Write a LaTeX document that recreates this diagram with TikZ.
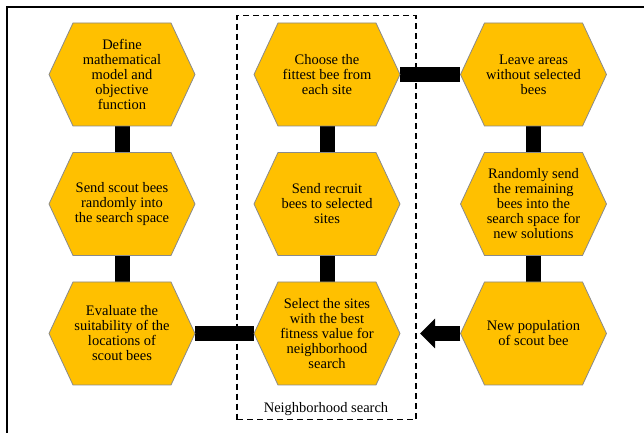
\documentclass[tikz,border=0pt]{standalone}
\usepackage{fontspec}
\setmainfont{Liberation Serif}
\usetikzlibrary{arrows.meta,backgrounds}
\definecolor{hexyellow}{HTML}{FFC000}
\definecolor{hexedge}{HTML}{8A8A8A}
\tikzset{
  hexshape/.style={fill=hexyellow, draw=hexedge, line width=0.8pt, line join=miter},
  hextext/.style={minimum width=146pt, minimum height=103pt, inner sep=0pt, align=center,
    font=\fontsize{14.5}{15}\selectfont},
  bar/.style={line width=15pt, black},
  bigarrow/.style={line width=15pt, black, -{Triangle[length=15pt,width=29pt]}},
  nsearch/.style={draw, dash pattern=on 6pt off 4pt, line width=1.6pt, minimum width=179pt,
    minimum height=404pt, inner sep=0pt},
  nlabel/.style={font=\fontsize{14.5}{15}\selectfont, inner sep=0pt},
  frame/.style={line width=2.5pt, black}
}
\newcommand{\beehex}[4]{%
  \path[hexshape] (#2-73,#3) -- (#2-49,#3+51.5) -- (#2+49,#3+51.5) -- (#2+73,#3)
    -- (#2+49,#3-51.5) -- (#2-49,#3-51.5) -- cycle;
  \node[hextext] (#1) at (#2,#3) {#4};}
\begin{document}
\begin{tikzpicture}[x=1pt,y=1pt]
\useasboundingbox (0,0) rectangle (644,435);
\draw[frame] (7,2) -- (7,428) -- (646,428);
\node[nsearch] (ns) at (326.5,217.3) {};
\node[nlabel] (nl) at (326,26) {Neighborhood search};
\beehex{a1}{122}{360.5}{Define\\mathematical\\model and\\objective\\function}
\beehex{a2}{122}{231}{Send scout bees\\randomly into\\the search space}
\beehex{a3}{122}{101.5}{Evaluate the\\suitability of the\\locations of\\scout bees}
\beehex{b1}{327}{360.5}{Choose the\\fittest bee from\\each site}
\beehex{b2}{327}{231}{Send recruit\\bees to selected\\sites}
\beehex{b3}{327}{101.5}{Select the sites\\with the best\\fitness value for\\neighborhood\\search}
\beehex{c1}{533.5}{360.5}{Leave areas\\without selected\\bees}
\beehex{c2}{533.5}{231}{Randomly send\\the remaining\\bees into the\\search space for\\new solutions}
\beehex{c3}{533.5}{101.5}{New population\\of scout bee}
\coordinate (tip) at (420,101.5);
\begin{pgfonlayer}{background}
\draw[bar] (a1) -- (a2);
\draw[bar] (a2) -- (a3);
\draw[bar] (a3) -- (b3);
\draw[bar] (b3) -- (b2);
\draw[bar] (b2) -- (b1);
\draw[bar] (b1) -- (c1);
\draw[bar] (c1) -- (c2);
\draw[bar] (c2) -- (c3);
\draw[bigarrow] (c3) -- (tip);
\end{pgfonlayer}
\end{tikzpicture}
\end{document}
